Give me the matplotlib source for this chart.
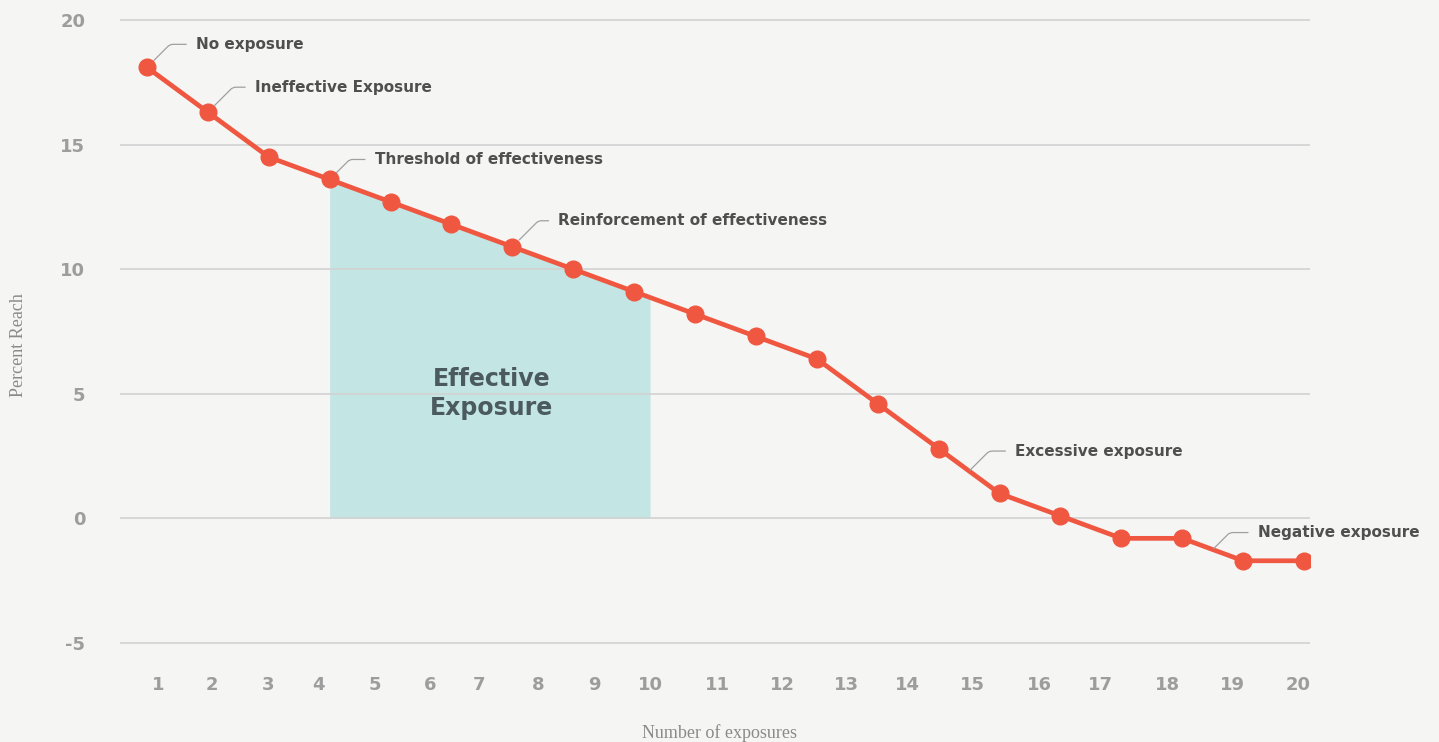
import numpy as np
import matplotlib.pyplot as plt

plt.rcParams["axes.unicode_minus"] = False

# Percent reach by number of exposures
exposures = np.arange(1, 21)
reach = [18.1, 16.3, 14.5, 13.6, 12.7, 11.8, 10.9, 10.0, 9.1, 8.2,
         7.3, 6.4, 4.6, 2.8, 1.0, 0.1, -0.8, -0.8, -1.7, -1.7]

x_labels = [str(i) for i in range(1, 21)]
# the printed numbers sit a little off the plotted points
x_label_pos = [1.18, 2.07, 2.99, 3.81, 4.74, 5.65, 6.45, 7.42, 8.34, 9.26,
               10.36, 11.43, 12.49, 13.48, 14.56, 15.66, 16.65, 17.75, 18.82, 19.90]
y_ticks = [-5, 0, 5, 10, 15, 20]

# effective exposure band, from exposure 4 to the "10" label
band_start, band_end = 4, 9.26

# (text, x on the line, offset of the text in pixels, gap at the line end)
notes = [
    ("No exposure", 1, (49, 23), 7),
    ("Ineffective Exposure", 2, (47, 25), 7),
    ("Threshold of effectiveness", 4, (45, 20), 7),
    ("Reinforcement of effectiveness", 7, (46, 26), 7),
    ("Excessive exposure", 14.5, (46, 20), 1),
    ("Negative exposure", 18.5, (45, 17), 1),
]

bg = "#f5f5f3"
red = "#ef5741"
teal = "#c3e5e3"
ink = "#4f4f4f"
grey = "#9d9d9d"

fig = plt.figure(figsize=(14.39, 7.42), dpi=100, facecolor=bg)
ax = fig.add_axes([120 / 1439, 94 / 742, 1190 / 1439, 633 / 742])
ax.set_facecolor(bg)

ax.set_xlim(0.557, 20.097)
ax.set_ylim(-5.2, 20.2)

# shaded band under the curve
bx = np.linspace(band_start, band_end, 200)
ax.fill_between(bx, 0, np.interp(bx, exposures, reach), color=teal, lw=0, zorder=1)
ax.text((band_start + band_end) / 2 + 0.03, 5.0, "Effective\nExposure",
        ha="center", va="center", fontsize=17, fontweight="bold",
        family="DejaVu Sans", color="#4b5a5f", linespacing=1.25, zorder=4)

ax.plot(exposures, reach, color=red, lw=3.4, marker="o", ms=12, zorder=3,
        solid_capstyle="round")

for text, xv, off, gap in notes:
    yv = np.interp(xv, exposures, reach)
    ax.annotate(text, xy=(xv, yv), xytext=off, textcoords="offset pixels",
                ha="left", va="center", fontsize=11, fontweight="bold",
                family="DejaVu Sans", color=ink, zorder=5,
                arrowprops=dict(arrowstyle="-", color="#a0a0a0", lw=0.9,
                                connectionstyle="angle,angleA=0,angleB=45,rad=3",
                                relpos=(0, 0.5), shrinkA=5, shrinkB=gap))

# grid and axes
ax.set_yticks(y_ticks)
ax.yaxis.grid(True, color="#d2d2d2", lw=1.2)
ax.set_axisbelow(False)
for s in ax.spines.values():
    s.set_visible(False)

ax.set_xticks(x_label_pos, x_labels)
ax.tick_params(axis="both", length=0, labelcolor=grey, labelsize=13)
ax.tick_params(axis="y", pad=25)
ax.tick_params(axis="x", pad=20)
for t in ax.get_yticklabels() + ax.get_xticklabels():
    t.set_fontfamily("DejaVu Sans")
    t.set_fontweight("bold")

ax.set_xlabel("Number of exposures", family="Liberation Serif", fontsize=13,
              color="#8a8a8a", va="center")
ax.xaxis.set_label_coords(0.504, -0.134)
ax.set_ylabel("Percent Reach", family="Liberation Serif", fontsize=13,
              color="#8a8a8a", va="center")
ax.yaxis.set_label_coords(-0.085, 0.479)

fig.savefig("out.png", dpi=100, facecolor=bg)
